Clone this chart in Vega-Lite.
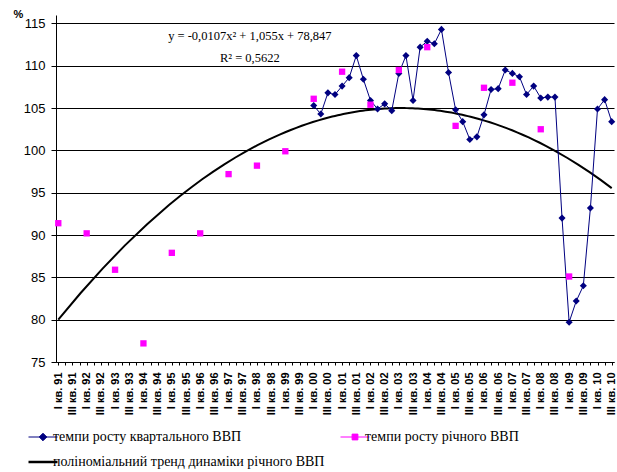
{
  "$schema": "https://vega.github.io/schema/vega-lite/v6.json",
  "width": 558,
  "height": 347,
  "autosize": {"type": "none"},
  "padding": {"left": 56, "top": 15, "right": 3, "bottom": 110},
  "background": "#ffffff",
  "config": {
    "view": {"stroke": null},
    "font": "Liberation Sans",
    "axis": {"labelColor": "#000", "domainColor": "#000", "tickColor": "#000", "titleColor": "#000"}
  },
  "datasets": {
    "quarterly": [
      {"period": "I кв. 00", "value": 105.3},
      {"period": "II кв. 00", "value": 104.3},
      {"period": "III кв. 00", "value": 106.8},
      {"period": "IV кв. 00", "value": 106.6},
      {"period": "I кв. 01", "value": 107.6},
      {"period": "II кв. 01", "value": 108.6},
      {"period": "III кв. 01", "value": 111.2},
      {"period": "IV кв. 01", "value": 108.4},
      {"period": "I кв. 02", "value": 105.9},
      {"period": "II кв. 02", "value": 104.9},
      {"period": "III кв. 02", "value": 105.5},
      {"period": "IV кв. 02", "value": 104.7},
      {"period": "I кв. 03", "value": 109.1},
      {"period": "II кв. 03", "value": 111.2},
      {"period": "III кв. 03", "value": 105.9},
      {"period": "IV кв. 03", "value": 112.2},
      {"period": "I кв. 04", "value": 112.9},
      {"period": "II кв. 04", "value": 112.6},
      {"period": "III кв. 04", "value": 114.3},
      {"period": "IV кв. 04", "value": 109.2},
      {"period": "I кв. 05", "value": 104.8},
      {"period": "II кв. 05", "value": 103.4},
      {"period": "III кв. 05", "value": 101.3},
      {"period": "IV кв. 05", "value": 101.6},
      {"period": "I кв. 06", "value": 104.2},
      {"period": "II кв. 06", "value": 107.2},
      {"period": "III кв. 06", "value": 107.3},
      {"period": "IV кв. 06", "value": 109.5},
      {"period": "I кв. 07", "value": 109.1},
      {"period": "II кв. 07", "value": 108.7},
      {"period": "III кв. 07", "value": 106.6},
      {"period": "IV кв. 07", "value": 107.6},
      {"period": "I кв. 08", "value": 106.2},
      {"period": "II кв. 08", "value": 106.3},
      {"period": "III кв. 08", "value": 106.3},
      {"period": "IV кв. 08", "value": 92.0},
      {"period": "I кв. 09", "value": 79.7},
      {"period": "II кв. 09", "value": 82.2},
      {"period": "III кв. 09", "value": 84.0},
      {"period": "IV кв. 09", "value": 93.2},
      {"period": "I кв. 10", "value": 104.9},
      {"period": "II кв. 10", "value": 106.0},
      {"period": "III кв. 10", "value": 103.4}
    ],
    "annual": [
      {"period": "I кв. 91", "i": 0, "value": 91.4},
      {"period": "I кв. 92", "i": 4, "value": 90.2},
      {"period": "I кв. 93", "i": 8, "value": 85.9},
      {"period": "I кв. 94", "i": 12, "value": 77.2},
      {"period": "I кв. 95", "i": 16, "value": 87.9},
      {"period": "I кв. 96", "i": 20, "value": 90.2},
      {"period": "I кв. 97", "i": 24, "value": 97.2},
      {"period": "I кв. 98", "i": 28, "value": 98.2},
      {"period": "I кв. 99", "i": 32, "value": 99.9},
      {"period": "I кв. 00", "i": 36, "value": 106.1},
      {"period": "I кв. 01", "i": 40, "value": 109.3},
      {"period": "I кв. 02", "i": 44, "value": 105.4},
      {"period": "I кв. 03", "i": 48, "value": 109.5},
      {"period": "I кв. 04", "i": 52, "value": 112.2},
      {"period": "I кв. 05", "i": 56, "value": 102.9},
      {"period": "I кв. 06", "i": 60, "value": 107.4},
      {"period": "I кв. 07", "i": 64, "value": 108.0},
      {"period": "I кв. 08", "i": 68, "value": 102.5},
      {"period": "I кв. 09", "i": 72, "value": 85.1}
    ],
    "notes": [
      {"period": "IV кв. 97", "value": 113.05, "label": "y = -0,0107x² + 1,055x + 78,847"},
      {"period": "IV кв. 97", "value": 110.5, "label": "R² = 0,5622"}
    ]
  },
  "encoding": {
    "y": {
      "field": "value",
      "type": "quantitative",
      "scale": {"domain": [75, 116], "nice": false, "zero": false},
      "axis": {
        "values": [75, 80, 85, 90, 95, 100, 105, 110, 115],
        "grid": true,
        "gridColor": "#000",
        "gridWidth": 1,
        "tickSize": 5,
        "labelPadding": 6,
        "labelFont": "Liberation Sans",
        "labelFontSize": 13,
        "title": "%",
        "titleAngle": 0,
        "titleFont": "Liberation Sans",
        "titleFontSize": 11,
        "titleFontWeight": "bold",
        "titleAlign": "center",
        "titleBaseline": "middle",
        "titleX": -38,
        "titleY": -1
      }
    }
  },
  "layer": [
    {
      "data": {"name": "annual"},
      "transform": [
        {"regression": "value", "on": "i", "method": "poly", "order": 2, "extent": [0, 78]}
      ],
      "mark": {"type": "line", "strokeWidth": 2},
      "encoding": {
        "x": {
          "field": "i",
          "type": "quantitative",
          "scale": {"domain": [-0.324, 78.324], "nice": false, "zero": false},
          "axis": null
        },
        "color": {
          "datum": "поліноміальний тренд динаміки річного ВВП",
          "scale": {
            "domain": ["темпи росту квартального ВВП", "темпи росту річного ВВП", "поліноміальний тренд динаміки річного ВВП"],
            "range": ["#000080", "#ff00ff", "#000000"]
          },
          "legend": {
            "orient": "none",
            "legendX": -20,
            "legendY": 415,
            "direction": "horizontal",
            "columns": 2,
            "columnPadding": 13,
            "rowPadding": 11,
            "title": null,
            "labelFont": "Liberation Serif",
            "labelFontSize": 14,
            "labelColor": "#000",
            "labelLimit": 400,
            "labelOffset": 3,
            "symbolSize": 841,
            "encode": {
              "symbols": {
                "update": {
                  "shape": {"signal": "datum.value === 'темпи росту квартального ВВП' ? 'M-1,0H1M0,-0.26L0.26,0L0,0.26L-0.26,0Z' : datum.value === 'темпи росту річного ВВП' ? 'M-1,0H1M-0.2,-0.2H0.2V0.2H-0.2Z' : 'M-1,0H1'"},
                  "fill": {"signal": "datum.value === 'темпи росту квартального ВВП' ? '#000080' : datum.value === 'темпи росту річного ВВП' ? '#ff00ff' : 'transparent'"},
                  "stroke": {"signal": "datum.value === 'темпи росту квартального ВВП' ? '#000080' : datum.value === 'темпи росту річного ВВП' ? '#ff00ff' : '#000000'"},
                  "strokeWidth": {"signal": "datum.value === 'поліноміальний тренд динаміки річного ВВП' ? 2.5 : 1"},
                  "opacity": {"value": 1}
                }
              }
            }
          }
        }
      }
    },
    {
      "encoding": {
        "x": {
          "field": "period",
          "type": "ordinal",
          "scale": {
            "type": "point",
            "padding": 0.324,
            "domain": [
              "I кв. 91", "II кв. 91", "III кв. 91", "IV кв. 91",
              "I кв. 92", "II кв. 92", "III кв. 92", "IV кв. 92",
              "I кв. 93", "II кв. 93", "III кв. 93", "IV кв. 93",
              "I кв. 94", "II кв. 94", "III кв. 94", "IV кв. 94",
              "I кв. 95", "II кв. 95", "III кв. 95", "IV кв. 95",
              "I кв. 96", "II кв. 96", "III кв. 96", "IV кв. 96",
              "I кв. 97", "II кв. 97", "III кв. 97", "IV кв. 97",
              "I кв. 98", "II кв. 98", "III кв. 98", "IV кв. 98",
              "I кв. 99", "II кв. 99", "III кв. 99", "IV кв. 99",
              "I кв. 00", "II кв. 00", "III кв. 00", "IV кв. 00",
              "I кв. 01", "II кв. 01", "III кв. 01", "IV кв. 01",
              "I кв. 02", "II кв. 02", "III кв. 02", "IV кв. 02",
              "I кв. 03", "II кв. 03", "III кв. 03", "IV кв. 03",
              "I кв. 04", "II кв. 04", "III кв. 04", "IV кв. 04",
              "I кв. 05", "II кв. 05", "III кв. 05", "IV кв. 05",
              "I кв. 06", "II кв. 06", "III кв. 06", "IV кв. 06",
              "I кв. 07", "II кв. 07", "III кв. 07", "IV кв. 07",
              "I кв. 08", "II кв. 08", "III кв. 08", "IV кв. 08",
              "I кв. 09", "II кв. 09", "III кв. 09", "IV кв. 09",
              "I кв. 10", "II кв. 10", "III кв. 10"
            ]
          },
          "axis": {
            "title": null,
            "grid": false,
            "domainColor": "#000",
            "tickSize": 3,
            "labelAngle": 270,
            "labelPadding": 7,
            "labelFont": "Liberation Sans",
            "labelFontSize": 11,
            "labelFontWeight": "bold",
            "labelOverlap": false,
            "labelBound": false,
            "labelExpr": "(indexof(datum.value, 'I кв') == 0 || indexof(datum.value, 'III кв') == 0) ? datum.value : ''"
          }
        }
      },
      "layer": [
        {
          "data": {"name": "quarterly"},
          "mark": {"type": "line", "strokeWidth": 1, "point": {"shape": "diamond", "size": 50, "filled": true, "opacity": 1}},
          "encoding": {
            "color": {"datum": "темпи росту квартального ВВП"}
          }
        },
        {
          "data": {"name": "annual"},
          "mark": {"type": "point", "shape": "square", "size": 40, "filled": true, "opacity": 1},
          "encoding": {
            "color": {"datum": "темпи росту річного ВВП"}
          }
        },
        {
          "data": {"name": "notes"},
          "mark": {"type": "text", "font": "Liberation Serif", "fontSize": 12.5, "align": "center", "baseline": "alphabetic", "color": "#000"},
          "encoding": {
            "text": {"field": "label"}
          }
        }
      ]
    }
  ],
  "resolve": {"scale": {"x": "independent"}, "axis": {"x": "independent"}}
}
